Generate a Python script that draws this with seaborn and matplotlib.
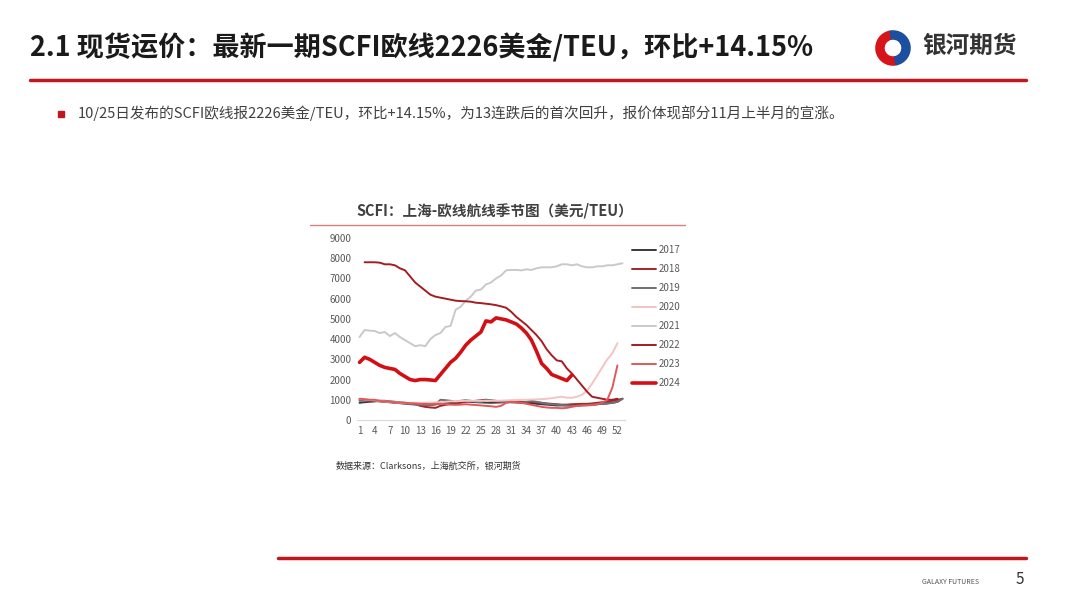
import numpy as np
import pandas as pd
import matplotlib.pyplot as plt
import seaborn as sns
from matplotlib.patches import Wedge

sns.set_style("white")
plt.rcParams['font.family'] = ['Noto Sans CJK SC', 'DejaVu Sans']

# ---- data ----
weeks_all = list(range(1, 54))
y2017 = [850, 880, 900, 920, 950, 950, 920, 900, 870, 850, 820, 800, 780, 760, 750, 780, 820, 850, 880, 900,
         920, 930, 900, 880, 870, 860, 850, 860, 870, 880, 900, 880, 860, 850, 830, 800, 780, 760, 740, 720,
         720, 720, 720, 730, 740, 750, 760, 780, 800, 820, 850, 900, 1050]
y2018 = [1000, 980, 960, 940, 920, 900, 880, 860, 840, 820, 800, 780, 700, 650, 620, 600, 700, 750, 800, 820,
         850, 900, 920, 950, 980, 1000, 950, 900, 880, 900, 950, 920, 900, 880, 900, 880, 850, 820, 800, 780,
         760, 760, 780, 790, 800, 800, 820, 850, 880, 900, 950, 1000, 1050]
y2019 = [950, 960, 970, 950, 930, 900, 880, 850, 830, 800, 780, 760, 750, 740, 730, 760, 1000, 980, 950, 900,
         950, 980, 950, 900, 880, 1000, 980, 950, 900, 880, 870, 860, 850, 900, 950, 900, 850, 800, 780, 760,
         740, 720, 700, 700, 720, 740, 760, 780, 800, 820, 850, 900, 1050]
y2020 = [1050, 1020, 1000, 980, 950, 920, 900, 880, 860, 850, 850, 850, 850, 850, 860, 870, 880, 900, 920, 930,
         940, 950, 950, 950, 950, 950, 950, 950, 960, 970, 980, 990, 1000, 1000, 1010, 1020, 1030, 1050, 1080, 1120,
         1150, 1100, 1100, 1150, 1250, 1450, 1800, 2200, 2600, 3000, 3300, 3800]
y2021 = [4100, 4450, 4420, 4400, 4300, 4350, 4150, 4300, 4100, 3950, 3800, 3650, 3700, 3650, 4000, 4200, 4300, 4600, 4650, 5450,
         5600, 5900, 6100, 6400, 6450, 6700, 6800, 7000, 7150, 7400, 7420, 7420, 7400, 7450, 7420, 7500, 7550, 7550, 7550, 7600,
         7700, 7700, 7650, 7700, 7600, 7550, 7550, 7600, 7600, 7650, 7650, 7700, 7750]
y2022 = [None, 7800, 7800, 7800, 7780, 7700, 7700, 7650, 7500, 7400, 7100, 6800, 6600, 6400, 6200, 6100, 6050, 6000, 5950, 5900,
         5880, 5870, 5850, 5800, 5780, 5750, 5720, 5680, 5620, 5550, 5350, 5100, 4900, 4700, 4450, 4200, 3900, 3500, 3200, 2950,
         2900, 2550, 2300, 2000, 1700, 1400, 1150, 1100, 1050, 1000, 1000, 1050]
y2023 = [1050, 1030, 1000, 1000, 950, 920, 900, 880, 860, 850, 830, 820, 800, 800, 790, 800, 800, 780, 760, 750,
         760, 780, 760, 740, 720, 700, 680, 650, 700, 850, 900, 880, 850, 800, 750, 700, 650, 620, 600, 600,
         580, 600, 650, 700, 720, 720, 740, 780, 850, 1000, 1600, 2700]
y2024 = [2850, 3100, 3000, 2850, 2700, 2600, 2550, 2500, 2300, 2150, 2000, 1950, 2000, 2000, 1980, 1950, 2250, 2550, 2850, 3050,
         3350, 3700, 3950, 4150, 4350, 4900, 4850, 5050, 5000, 4950, 4850, 4750, 4550, 4300, 3950, 3400, 2800, 2550, 2250, 2150,
         2050, 1950, 2226]

series = {'2017': y2017, '2018': y2018, '2019': y2019, '2020': y2020,
          '2021': y2021, '2022': y2022, '2023': y2023, '2024': y2024}
colors = {'2017': '#3a3a3a', '2018': '#a0262a', '2019': '#707070', '2020': '#f2c4c4',
          '2021': '#c9c9c9', '2022': '#a51c22', '2023': '#e2585a', '2024': '#d40f14'}
widths = {'2024': 2.6}

rows = []
for yr, vals in series.items():
    for w, v in zip(weeks_all, vals):
        if v is not None:
            rows.append((yr, w, v))
df = pd.DataFrame(rows, columns=['year', 'week', 'value'])

fig = plt.figure(figsize=(10.8, 6.08), dpi=100)
W, H = 1080, 608

def fx(x): return x / W
def fy(y): return 1 - y / H

# header
fig.text(fx(30), fy(48), "2.1 现货运价：最新一期SCFI欧线2226美金/TEU，环比+14.15%",
         fontsize=19.5, fontweight='bold', va='center', color='#1a1a1a')
fig.add_artist(plt.Line2D([fx(30), fx(1026)], [fy(80), fy(80)], color='#c0171d', lw=2.5))
# logo
lax = fig.add_axes([fx(873), fy(66), fx(40), 36 / H])
lax.set_xlim(-1, 1); lax.set_ylim(-1, 1); lax.set_aspect('equal'); lax.axis('off')
lax.add_patch(Wedge((0, 0), 0.95, 100, 280, width=0.45, color='#d7141a'))
lax.add_patch(Wedge((0, 0), 0.95, -80, 100, width=0.45, color='#1d4fa0'))
fig.text(fx(922), fy(46), "银河期货", fontsize=17, fontweight='bold', va='center', color='#333333')

fig.add_artist(plt.Rectangle((fx(58), fy(117)), 6 / W, 6 / H, color='#c0171d'))
fig.text(fx(78), fy(113), "10/25日发布的SCFI欧线报2226美金/TEU，环比+14.15%，为13连跌后的首次回升，报价体现部分11月上半月的宣涨。",
         fontsize=10.5, va='center', color='#404040')

# chart
fig.text(fx(495), fy(211), "SCFI：上海-欧线航线季节图（美元/TEU）", fontsize=10.5, fontweight='bold',
         ha='center', va='center', color='#404040')
fig.add_artist(plt.Line2D([fx(310), fx(685)], [fy(225), fy(225)], color='#d88080', lw=1))

ax = fig.add_axes([fx(357), fy(420), fx(625 - 357), 182 / H])
sns.lineplot(data=df, x='week', y='value', hue='year', palette=colors, ax=ax, legend=False,
             linewidth=1.4)
for line, yr in zip(ax.get_lines(), series.keys()):
    line.set_linewidth(widths.get(yr, 1.4))
ax.set_xlim(0.5, 53.5)
ax.set_ylim(0, 9000)
ax.set_xticks(range(1, 53, 3))
ax.set_yticks(range(0, 9001, 1000))
ax.tick_params(labelsize=7, colors='#595959', length=0, pad=4)
ax.set_xlabel(''); ax.set_ylabel('')
for s in ['top', 'right', 'left']:
    ax.spines[s].set_visible(False)
ax.spines['bottom'].set_color('#d9d9d9')

# legend
for i, yr in enumerate(series.keys()):
    yy = 250 + i * 19
    fig.add_artist(plt.Line2D([fx(632), fx(656)], [fy(yy), fy(yy)], color=colors[yr],
                              lw=widths.get(yr, 1.4)))
    fig.text(fx(659), fy(yy), yr, fontsize=7, va='center', color='#595959')

fig.text(fx(336), fy(466), "数据来源：Clarksons，上海航交所，银河期货", fontsize=6.5, va='center', color='#333333')

# footer
fig.add_artist(plt.Line2D([fx(278), fx(1026)], [fy(558), fy(558)], color='#c0171d', lw=2.5))
fig.text(fx(922), fy(582), "GALAXY FUTURES", fontsize=5, va='center', color='#555555')
fig.text(fx(1020), fy(580), "5", fontsize=11, ha='center', va='center', color='#333333')

fig.savefig("out.png", dpi=100)
